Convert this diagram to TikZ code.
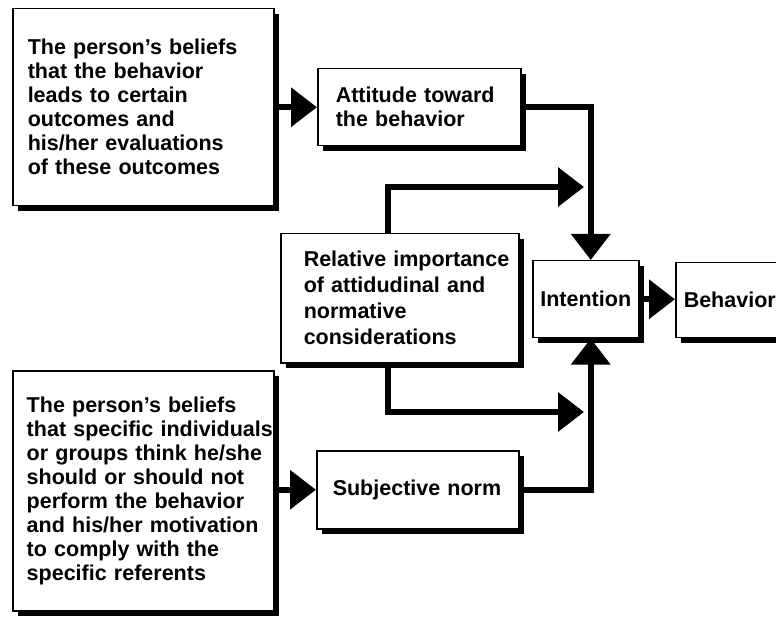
\documentclass[tikz,border=0pt]{standalone}
\usepackage{fontspec}
\setmainfont{Liberation Sans}
\usetikzlibrary{arrows.meta,shadows}
\begin{document}
\begin{tikzpicture}[x=1pt,y=-1pt,
  box/.style={draw=black, line width=1.5pt, fill=white, anchor=north west,
    font=\bfseries\fontsize{21.5}{24}\selectfont, inner ysep=2pt,
    drop shadow={shadow xshift=5pt, shadow yshift=-5pt, fill=black, opacity=1}},
  lbox/.style={box, align=left},
  conn/.style={line width=6.5pt, line join=miter, -{Triangle[length=26pt,width=38pt]}}]
\useasboundingbox[fill=white] (0,0) rectangle (776,617);

\node[lbox, inner xsep=15pt, text width=231pt, minimum width=261pt, minimum height=197pt] (b1) at (12,8)
  {\mbox{The person’s beliefs}\\\mbox{that the behavior}\\\mbox{leads to certain}\\\mbox{outcomes and}\\\mbox{his/her evaluations}\\\mbox{of these outcomes}};
\node[lbox, inner xsep=14pt, text width=233pt, minimum width=261pt, minimum height=240pt] (b2) at (12,370)
  {\mbox{The person’s beliefs}\\\mbox{that specific individuals}\\\mbox{or groups think he/she}\\\mbox{should or should not}\\\mbox{perform the behavior}\\\mbox{and his/her motivation}\\\mbox{to comply with the}\\\mbox{specific referents}};
\node[lbox, inner xsep=18pt, text width=167pt, minimum width=203pt, minimum height=77pt] (att) at (317,68)
  {\mbox{Attitude toward}\\\mbox{the behavior}};
\node[lbox, inner xsep=23pt, text width=192pt, minimum width=238pt, minimum height=129pt,
  font=\bfseries\fontsize{21.5}{26}\selectfont] (rel) at (280,233)
  {\mbox{Relative importance}\\\mbox{of attidudinal and}\\\mbox{normative}\\\mbox{considerations}};
\node[box, align=center, inner xsep=2pt, text width=102pt, minimum width=106pt, minimum height=77pt] (int) at (532,260)
  {Intention};
\node[lbox, inner xsep=8pt, text width=114pt, minimum width=130pt, minimum height=75pt] (beh) at (675,262)
  {Behavior};
\node[lbox, inner xsep=16pt, text width=170pt, minimum width=202pt, minimum height=78pt] (subj) at (316,450)
  {\mbox{Subjective norm}};

\coordinate (rt) at (584,187);
\coordinate (rb) at (584,412);

\draw[conn] (b1.east |- att.west) -- (att.west);
\draw[conn] (b2.east |- subj.west) -- (subj.west);
\draw[conn] (att.east) -| ([xshift=5pt]int.north);
\draw[conn] (subj.east) -| ([xshift=5pt]int.south);
\draw[conn] ([xshift=108pt]rel.north west) |- (rt);
\draw[conn] ([xshift=108pt]rel.south west) |- (rb);
\draw[conn] (int.east) -- (int.east -| beh.west);
\end{tikzpicture}
\end{document}
